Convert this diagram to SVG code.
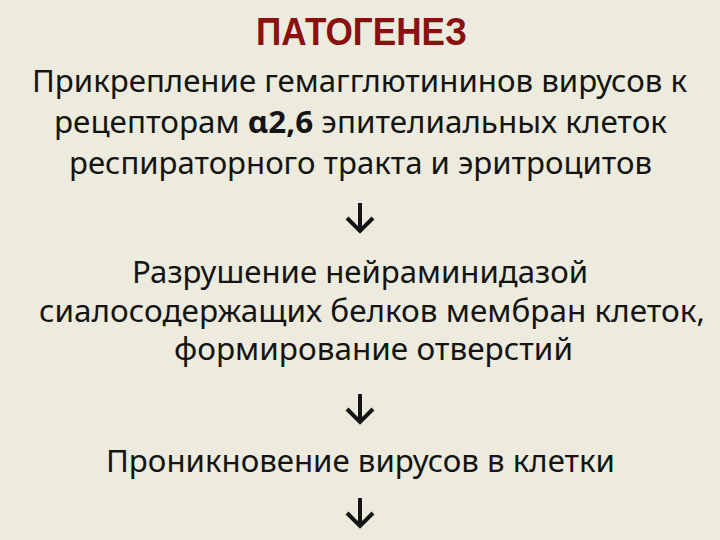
<svg xmlns="http://www.w3.org/2000/svg" width="720" height="540" viewBox="0 0 720 540">
<style>
.bg{fill:#ecebdd}
.title{font-family:"Liberation Sans",Arial,sans-serif;font-weight:bold;font-size:38px;fill:#8a1010}
.t{font-family:"Noto Sans","Open Sans",sans-serif;font-size:30px;fill:#141414}
.b{font-weight:bold}
.arr{fill:none;stroke:#141414;stroke-width:4;stroke-linejoin:miter;stroke-linecap:butt}
</style>
<defs>
<path id="arrow" d="M0,0 V28 M-13,15 L0,28 L13,15"/>
</defs>
<rect class="bg" x="0" y="0" width="720" height="540"/>
<g id="title"><text class="title" x="256" y="45" textLength="211" lengthAdjust="spacingAndGlyphs">ПАТОГЕНЕЗ</text></g>
<g id="step1">
<text class="t" x="32" y="92" textLength="655" lengthAdjust="spacingAndGlyphs">Прикрепление гемагглютининов вирусов к</text>
<text class="t" x="54" y="133" textLength="613" lengthAdjust="spacingAndGlyphs">рецепторам <tspan class="b">α2,6</tspan> эпителиальных клеток</text>
<text class="t" x="69" y="174" textLength="583" lengthAdjust="spacingAndGlyphs">респираторного тракта и эритроцитов</text>
</g>
<g id="step2">
<text class="t" x="132" y="283" textLength="456" lengthAdjust="spacingAndGlyphs">Разрушение нейраминидазой</text>
<text class="t" x="39" y="322" textLength="666" lengthAdjust="spacingAndGlyphs">сиалосодержащих белков мембран клеток,</text>
<text class="t" x="174" y="360" textLength="399" lengthAdjust="spacingAndGlyphs">формирование отверстий</text>
</g>
<g id="step3">
<text class="t" x="106" y="472" textLength="509" lengthAdjust="spacingAndGlyphs">Проникновение вирусов в клетки</text>
</g>
<g id="connectors">
<use href="#arrow" class="arr" x="360" y="203"/>
<use href="#arrow" class="arr" x="360" y="394"/>
<use href="#arrow" class="arr" x="360" y="498"/>
</g>
</svg>
